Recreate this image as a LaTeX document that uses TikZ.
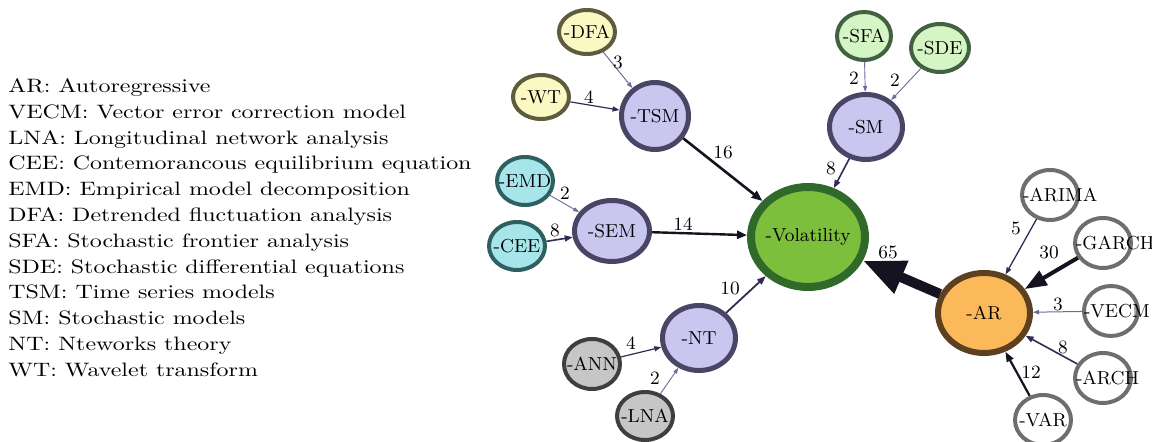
\documentclass[tikz,border=0pt]{standalone}
\usepackage{graphicx}
\usetikzlibrary{shapes.geometric,arrows.meta}
\definecolor{volF}{HTML}{7DBE3C}\definecolor{volD}{HTML}{2F6A2B}
\definecolor{lavF}{HTML}{C9C7F0}\definecolor{lavD}{HTML}{4B4565}
\definecolor{yelF}{HTML}{FBF8C4}\definecolor{yelD}{HTML}{5F5B3E}
\definecolor{lgrF}{HTML}{D5F5C5}\definecolor{lgrD}{HTML}{416141}
\definecolor{cyaF}{HTML}{A6E6EA}\definecolor{cyaD}{HTML}{2F6061}
\definecolor{gryF}{HTML}{C6C6C6}\definecolor{gryD}{HTML}{3F3F3F}
\definecolor{orgF}{HTML}{FCB95A}\definecolor{orgD}{HTML}{5C4020}
\definecolor{whtD}{HTML}{6E6E6E}
\definecolor{ethin}{HTML}{6B6B9E}\definecolor{emid}{HTML}{2E2C55}\definecolor{ebig}{HTML}{14131F}
\newcommand{\ctr}[1]{\makebox[0pt]{#1}}
\newcommand{\lft}[1]{\makebox[0pt][l]{\kern-13.5pt #1}}
\tikzset{
  nd/.style n args={4}{ellipse, draw=#1, fill=#2, inner sep=0pt, minimum width=#3, minimum height=#4},
  big/.style={line width=4pt},
  mid/.style={line width=2.5pt},
  sml/.style={line width=2pt},
  orn/.style={line width=3pt},
  ew/.style n args={5}{line width=#1, draw=#2, -{Triangle[length=#3,width=#4,fill=#5]}},
  w2/.style={ew={0.45pt}{ethin}{3pt}{2pt}{ethin}},
  w3/.style={ew={0.5pt}{ethin}{3pt}{2.2pt}{ethin}},
  w4/.style={ew={0.6pt}{emid}{3.5pt}{2.5pt}{emid}},
  w5/.style={ew={0.65pt}{emid}{3.5pt}{2.5pt}{emid}},
  w8/.style={ew={0.8pt}{emid}{4pt}{3pt}{emid}},
  w10/.style={ew={0.9pt}{emid}{4.5pt}{3.2pt}{emid}},
  w12/.style={ew={1.1pt}{ebig}{5pt}{3.6pt}{ebig}},
  w14/.style={ew={1.2pt}{ebig}{5pt}{4pt}{ebig}},
  w16/.style={ew={1.3pt}{ebig}{5.5pt}{4.2pt}{ebig}},
  w30/.style={ew={2pt}{ebig}{11pt}{8pt}{ebig}},
  w65/.style={ew={5pt}{ebig}{21pt}{16.5pt}{ebig}},
  lab/.style={inner sep=0pt}
}
\begin{document}
\begin{tikzpicture}[x=0.5pt,y=-0.5pt,font=\fontsize{9.4}{12.9}\selectfont]
\useasboundingbox (0,0) rectangle (1152,442);
% legend
\node[anchor=north west, inner sep=0pt, font=\fontsize{9.7}{12.9}\selectfont] (legend) at (8,74) {\scalebox{1.234}[1]{\begin{tabular}{@{}l@{}}AR: Autoregressive\\
VECM: Vector error correction model\\
LNA: Longitudinal network analysis\\
CEE: Contemorancous equilibrium equation\\
EMD: Empirical model decomposition\\
DFA: Detrended fluctuation analysis\\
SFA: Stochastic frontier analysis\\
SDE: Stochastic differential equations\\
TSM: Time series models\\
SM: Stochastic models\\
NT: Nteworks theory\\
WT: Wavelet transform\end{tabular}}};
% nodes
\node[nd={volD}{volF}{57pt}{50pt}, big] (Vol) at (808,237) {\ctr{-Volatility}};
\node[nd={lavD}{lavF}{33.5pt}{33.5pt}, mid] (TSM) at (655,116) {\ctr{-TSM}};
\node[nd={lavD}{lavF}{36.5pt}{32.5pt}, mid] (SM) at (866,127) {\ctr{-SM}};
\node[nd={lavD}{lavF}{37.5pt}{30.5pt}, mid] (SEM) at (612,231) {\ctr{-SEM}};
\node[nd={lavD}{lavF}{36.5pt}{32.5pt}, mid] (NT) at (699,338) {\ctr{-NT}};
\node[nd={yelD}{yelF}{28pt}{22pt}, sml] (DFA) at (587,32) {\ctr{-DFA}};
\node[nd={yelD}{yelF}{28pt}{22pt}, sml] (WT) at (541,97) {\ctr{-WT}};
\node[nd={lgrD}{lgrF}{27pt}{24pt}, sml] (SFA) at (864,36) {\ctr{-SFA}};
\node[nd={lgrD}{lgrF}{29pt}{24pt}, sml] (SDE) at (940,48) {\ctr{-SDE}};
\node[nd={cyaD}{cyaF}{28pt}{24pt}, sml] (EMD) at (525,181) {\ctr{-EMD}};
\node[nd={cyaD}{cyaF}{28pt}{24pt}, sml] (CEE) at (517,246) {\ctr{-CEE}};
\node[nd={gryD}{gryF}{28pt}{25pt}, sml] (ANN) at (592,364) {\ctr{-ANN}};
\node[nd={gryD}{gryF}{28pt}{24pt}, sml] (LNA) at (645,416) {\ctr{-LNA}};
\node[nd={orgD}{orgF}{46pt}{40pt}, orn] (AR) at (984,313) {\ctr{-AR}};
\node[nd={whtD}{white}{28pt}{25pt}, sml] (ARIMA) at (1050,195) {\lft{-ARIMA}};
\node[nd={whtD}{white}{28pt}{25pt}, sml] (GARCH) at (1103,243) {\lft{-GARCH}};
\node[nd={whtD}{white}{27pt}{25pt}, sml] (VECM) at (1111,311) {\lft{-VECM}};
\node[nd={whtD}{white}{28pt}{25pt}, sml] (ARCH) at (1103,378) {\lft{-ARCH}};
\node[nd={whtD}{white}{28pt}{25pt}, sml] (VAR) at (1043,420) {\ctr{-VAR}};
% edges
\draw[w3] (DFA) -- (TSM);
\draw[w4] (WT) -- (TSM);
\draw[w16] (TSM) -- (Vol);
\draw[w2] (SFA) -- (SM);
\draw[w2] (SDE) -- (SM);
\draw[w8] (SM) -- (Vol);
\draw[w2] (EMD) -- (SEM);
\draw[w8] (CEE) -- (SEM);
\draw[w14] (SEM) -- (Vol);
\draw[w10] (NT) -- (Vol);
\draw[w4] (ANN) -- (NT);
\draw[w2] (LNA) -- (NT);
\draw[w65] (AR) -- (Vol);
\draw[w5] (ARIMA) -- (AR);
\draw[w30] (GARCH) -- (AR);
\draw[w3] (VECM) -- (AR);
\draw[w8] (ARCH) -- (AR);
\draw[w12] (VAR) -- (AR);
% edge labels
\node[lab] (l1) at (618,62) {3};
\node[lab] (l2) at (589,97) {4};
\node[lab] (l3) at (723,152) {16};
\node[lab] (l4) at (854,78) {2};
\node[lab] (l5) at (895,80) {2};
\node[lab] (l6) at (831,168) {8};
\node[lab] (l7) at (565,193) {2};
\node[lab] (l8) at (555,230) {8};
\node[lab] (l9) at (683,224) {14};
\node[lab] (l10) at (730,288) {10};
\node[lab] (l11) at (631,343) {4};
\node[lab] (l12) at (655,378) {2};
\node[lab] (l13) at (888,252) {65};
\node[lab] (l14) at (1016,228) {5};
\node[lab] (l15) at (1049,252) {30};
\node[lab] (l16) at (1058,304) {3};
\node[lab] (l17) at (1063,347) {8};
\node[lab] (l18) at (1031,372) {12};
\end{tikzpicture}
\end{document}
